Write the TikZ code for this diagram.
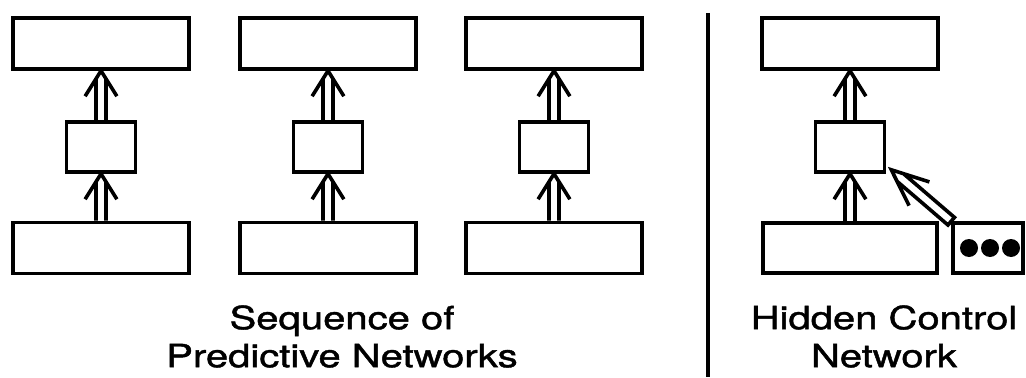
\documentclass[tikz,border=0pt]{standalone}
\usepackage{fontspec}
\usepackage{graphicx}
\setmainfont{TeX Gyre Heros}
\newfontfamily\capfont[FakeBold=1.2]{TeX Gyre Heros}
\usetikzlibrary{calc}
\tikzset{
  bigbox/.style={draw, line width=3.6bp, inner sep=0pt, minimum width=176bp, minimum height=51bp},
  hbox/.style={draw, line width=3.6bp, inner sep=0pt, minimum width=174bp, minimum height=50bp},
  smallbox/.style={draw, line width=3.6bp, inner sep=0pt, minimum width=69bp, minimum height=50bp},
  dotbox/.style={draw, line width=3.6bp, inner sep=0pt, minimum width=70bp, minimum height=50bp},
  blackdot/.style={circle, fill=black, inner sep=0pt, minimum size=18bp},
  conn/.style={line width=3.6bp, line cap=butt, line join=miter},
  divider/.style={line width=4.8bp},
  caption/.style={inner sep=0pt, anchor=north, font=\capfont\fontsize{32bp}{38bp}\selectfont}
}
% #1: '--' closes the tail, #2 start, #3 tip, #4 half angle of head, #5 arm length
\newcommand\hollowarrow[5][]{%
  \pgfmathsetmacro\hashaft{5/tan(#4)}%
  \draw[conn] let \p1=(#2), \p2=(#3), \n1={atan2(\y2-\y1,\x2-\x1)} in
    ($(\p2)+({\n1+180}:\hashaft bp)+({\n1+90}:5bp)$) -- ($(\p1)+({\n1+90}:5bp)$)
    #1 ($(\p1)+({\n1-90}:5bp)$) -- ($(\p2)+({\n1+180}:\hashaft bp)+({\n1-90}:5bp)$)
    ($(\p2)+({\n1+180-#4}:#5bp)$) -- (\p2) -- ($(\p2)+({\n1+180+#4}:#5bp)$);
}
\begin{document}
\begin{tikzpicture}[x=1bp,y=1bp]
\useasboundingbox (0,0) rectangle (1026,377);
% sequence of predictive networks
\node[bigbox] (t1) at (101,333.5) {};
\node[smallbox] (m1) at (101,230) {};
\node[bigbox] (b1) at (101,129) {};
\node[bigbox] (t2) at (328,333.5) {};
\node[smallbox] (m2) at (328,230) {};
\node[bigbox] (b2) at (328,129) {};
\node[bigbox] (t3) at (554,333.5) {};
\node[smallbox] (m3) at (554,230) {};
\node[bigbox] (b3) at (554,129) {};
\hollowarrow{b1.north}{m1.south}{32}{30}
\hollowarrow{m1.north}{t1.south}{32}{30}
\hollowarrow{b2.north}{m2.south}{32}{30}
\hollowarrow{m2.north}{t2.south}{32}{30}
\hollowarrow{b3.north}{m3.south}{32}{30}
\hollowarrow{m3.north}{t3.south}{32}{30}
% divider
\coordinate (dtop) at (708,364);
\coordinate (dbot) at (708,0);
\draw[divider] (dtop) -- (dbot);
% hidden control network
\node[bigbox] (tH) at (850,333.5) {};
\node[smallbox] (mH) at (850,230) {};
\node[hbox] (bH) at (850,129) {};
\node[dotbox] (dH) at (988,129) {};
\node[blackdot] (d1) at (969,129) {};
\node[blackdot] (d2) at (990,129) {};
\node[blackdot] (d3) at (1011,129) {};
\coordinate (hctip) at ($(mH.south east)+(5,4)$);
\hollowarrow{bH.north}{mH.south}{32}{30}
\hollowarrow{mH.north}{tH.south}{32}{30}
\hollowarrow[--]{dH.north west}{hctip}{23}{40}
% captions
\node[caption] (cap1) at (342,74.6) {\scalebox{1.25}[1]{\begin{tabular}{@{}c@{}}Sequence of\\Predictive Networks\end{tabular}}};
\node[caption] (cap2) at (884,74.6) {\scalebox{1.25}[1]{\begin{tabular}{@{}c@{}}Hidden Control\\Network\end{tabular}}};
\end{tikzpicture}
\end{document}
